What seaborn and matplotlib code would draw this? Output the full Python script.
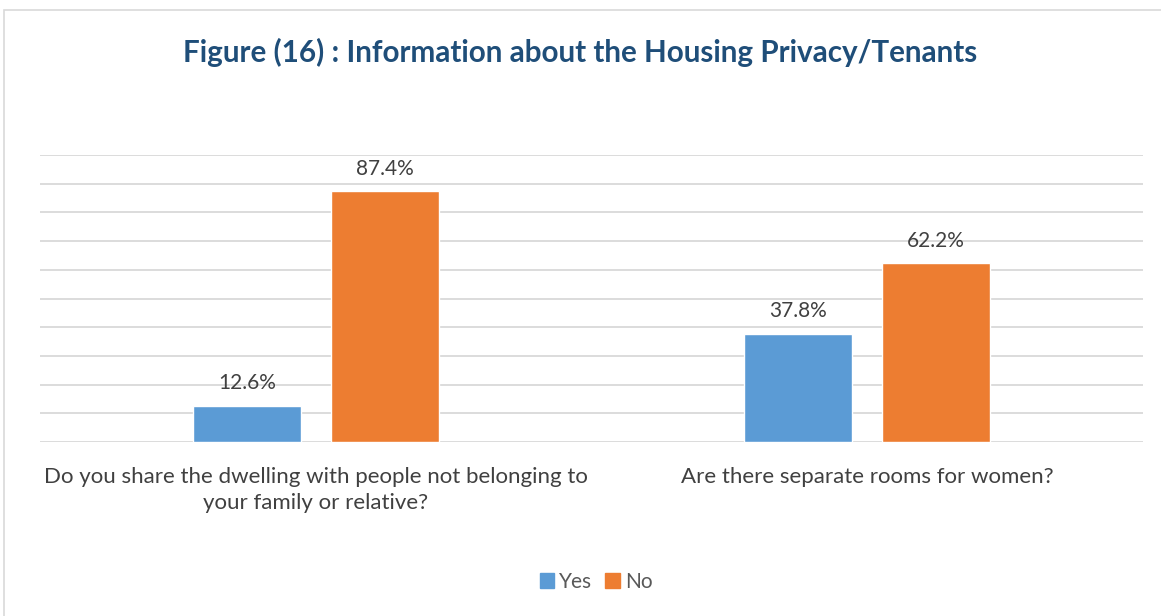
import matplotlib
matplotlib.use("Agg")
import matplotlib.pyplot as plt
import seaborn as sns
import pandas as pd
from matplotlib.patches import Rectangle

categories = [
    "Do you share the dwelling with people not belonging to\nyour family or relative?",
    "Are there separate rooms for women?",
]
answers = ["Yes", "No"]
yes_values = [12.6, 37.8]
no_values = [87.4, 62.2]
title = "Figure (16) : Information about the Housing Privacy/Tenants"

df = pd.DataFrame({
    "question": categories * 2,
    "answer": ["Yes"] * len(categories) + ["No"] * len(categories),
    "pct": yes_values + no_values,
})

sns.set_theme(style="white")
plt.rcParams["font.family"] = ["Lato", "DejaVu Sans"]

fig = plt.figure(figsize=(11.61, 6.16), dpi=100)
fig.patches.append(Rectangle((4 / 1161, -0.1), 1.2, 1 - 10 / 616 + 0.1,
                             transform=fig.transFigure, fill=False,
                             edgecolor="#D9D9D9", linewidth=1.2))

ax = fig.add_axes([40 / 1161, 1 - 442 / 616, 1103 / 1161, 287 / 616])
palette = {"Yes": "#5B9BD5", "No": "#ED7D31"}
sns.barplot(data=df, x="question", y="pct", hue="answer", hue_order=answers,
            palette=palette, width=0.5, gap=0.217, saturation=1,
            order=categories, ax=ax, legend=False)

ax.set_ylim(0, 100)
ax.set_xlim(-0.5, 1.5)
ax.set_yticks(range(0, 101, 10))
ax.yaxis.grid(True, color="#D9D9D9", linewidth=1.3)
ax.set_axisbelow(True)
ax.tick_params(axis="y", left=False, labelleft=False)
ax.tick_params(axis="x", bottom=False, labelsize=16, labelcolor="#404040", pad=12)
for lbl in ax.get_xticklabels():
    lbl.set_linespacing(1.35)
for s in ax.spines.values():
    s.set_visible(False)
ax.set_xlabel("")
ax.set_ylabel("")

for container in ax.containers:
    ax.bar_label(container, labels=[f"{v:.1f}%" for v in container.datavalues],
                 padding=9, fontsize=15, color="#404040")

fig.text(0.5, 1 - 52 / 616, title, ha="center", va="center",
         fontsize=21.3, fontweight="bold", color="#1F4E79")

handles = [Rectangle((0, 0), 1, 1, color=palette[a]) for a in answers]
fig.legend(handles, answers, loc="center", bbox_to_anchor=(596 / 1161, 1 - 582 / 616),
           ncol=2, frameon=False, fontsize=15, handlelength=0.7, handleheight=0.7,
           handletextpad=0.25, columnspacing=0.6, labelcolor="#595959")

fig.savefig("out.png", dpi=100)
